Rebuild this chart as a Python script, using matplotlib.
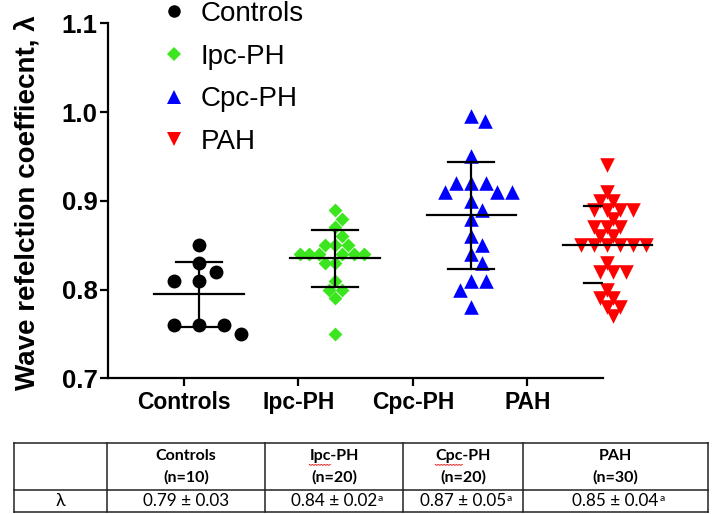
import numpy as np
import matplotlib
matplotlib.use("Agg")
import matplotlib.pyplot as plt
from matplotlib import font_manager
from matplotlib.lines import Line2D

# values (one list per group)
controls = [0.85, 0.83, 0.82, 0.81, 0.81, 0.76, 0.76, 0.76, 0.75]
ipc_ph = [0.89, 0.88, 0.87, 0.86, 0.85, 0.85, 0.85, 0.84, 0.84, 0.84,
          0.84, 0.84, 0.84, 0.83, 0.83, 0.81, 0.80, 0.80, 0.79, 0.75]
cpc_ph = [0.995, 0.99, 0.95, 0.92, 0.92, 0.92, 0.91, 0.91, 0.91, 0.90,
          0.89, 0.88, 0.86, 0.85, 0.84, 0.83, 0.81, 0.81, 0.80, 0.78]
pah = [0.94, 0.91, 0.90, 0.90, 0.89, 0.89, 0.89, 0.89, 0.88, 0.87,
       0.87, 0.87, 0.86, 0.86, 0.85, 0.85, 0.85, 0.85, 0.85, 0.85,
       0.83, 0.82, 0.82, 0.82, 0.80, 0.79, 0.79, 0.78, 0.78, 0.77]

groups = ["Controls", "Ipc-PH", "Cpc-PH", "PAH"]
y_ticks = [0.7, 0.8, 0.9, 1.0, 1.1]

# summary table
n_counts = [10, 20, 20, 30]
tab_mean = ["0.79", "0.84", "0.87", "0.85"]
tab_sd = ["0.03", "0.02", "0.05", "0.04"]
tab_sup = ["", "a", "a", "a"]

colors = ["black", "#3CE61E", "#0000FF", "#FF0000"]
markers = ["o", "D", "^", "v"]
sizes = [100, 50, 110, 110]
# swarm spacing in pixels (x, y) per group
spread = [(25, 12), (9.6, 12), (15, 13), (13, 10)]

names = {f.name for f in font_manager.fontManager.ttflist}
plt.rcParams["font.family"] = "Liberation Sans"
narrow = "Liberation Sans Narrow" in names
xfont = "Liberation Sans Narrow" if narrow else "Liberation Sans"

fig = plt.figure(figsize=(7.2, 5.14), dpi=100)
ax = fig.add_axes([108 / 720, 1 - 378.3 / 514, 495 / 720, 355 / 514])
ax.set_ylim(0.7, 1.1)
ax.set_xlim(0.336, 4.661)


def swarm(values, center, wx, wy):
    vals = np.asarray(values, dtype=float)
    pts = ax.transData.transform(np.column_stack([np.full(len(vals), center), vals]))
    cx = pts[0, 0]
    ys = pts[:, 1]
    placed = []
    xs = np.zeros(len(vals))
    for i in np.argsort(-vals, kind="stable"):
        y = ys[i]
        cands = [0.0]
        for px, py in placed:
            dy = abs(py - y)
            if dy < wy:
                dx = wx * np.sqrt(1 - (dy / wy) ** 2)
                cands += [px + dx, px - dx]
        cands.sort(key=lambda c: (round(abs(c), 3), -c))
        for c in cands:
            if all(((c - px) / wx) ** 2 + ((y - py) / wy) ** 2 >= 0.98 for px, py in placed):
                break
        placed.append((c, y))
        xs[i] = c
    back = ax.transData.inverted().transform(np.column_stack([cx + xs, ys]))
    return back[:, 0]


data = [controls, ipc_ph, cpc_ph, pah]
for i, vals in enumerate(data):
    center = 1.131 + 1.189 * i
    xs = swarm(vals, center, *spread[i])
    ax.scatter(xs, vals, s=sizes[i], marker=markers[i], color=colors[i],
               linewidths=0, zorder=3, clip_on=False)
    m = np.mean(vals)
    sd = np.std(vals, ddof=1)
    half, cap = 0.39, 0.2
    ax.plot([center - half, center + half], [m, m], color="black", lw=1.6, zorder=4, clip_on=False)
    ax.plot([center, center], [m - sd, m + sd], color="black", lw=1.6, zorder=4)
    for yy in (m - sd, m + sd):
        ax.plot([center - cap, center + cap], [yy, yy], color="black", lw=1.6, zorder=4)

for side in ("top", "right"):
    ax.spines[side].set_visible(False)
for side in ("left", "bottom"):
    ax.spines[side].set_linewidth(1.6)
ax.set_yticks(y_ticks)
ax.set_yticklabels([f"{v:.1f}" for v in y_ticks], fontsize=18.5, fontweight="bold")
ax.set_xticks(range(1, 5))
ax.set_xticklabels(groups, fontsize=20 if narrow else 16.5, fontweight="bold", family=xfont)
ax.tick_params(axis="y", width=1.6, length=6, pad=1.5)
ax.tick_params(axis="x", width=1.6, length=6, pad=3)

fig.text(28 / 720, 1 - 390 / 514, "Wave refelction coeffiecnt, \u03bb", rotation=90,
         ha="center", va="bottom", fontsize=20, fontweight="bold")

handles = [Line2D([], [], ls="", marker=markers[i], color=colors[i],
                  markersize=np.sqrt(sizes[i]) * (0.95 if i else 0.9), markeredgewidth=0)
           for i in range(4)]
fig.legend(handles, groups, loc="upper left", bbox_to_anchor=(160 / 720, 0.998),
           frameon=False, fontsize=20, handlelength=1.0, handletextpad=0.45,
           labelspacing=0.6, borderpad=0, borderaxespad=0)

# summary table drawn below the chart
tab = fig.add_axes([0, 0, 1, 1], zorder=-1)
tab.set_xlim(0, 720)
tab.set_ylim(514, 0)
tab.axis("off")
col_x = [14, 106.7, 265, 403, 523, 708]
row_y = [442.7, 490, 511.7]
for y in row_y:
    tab.plot([col_x[0], col_x[-1]], [y, y], color="#222222", lw=1.1)
for x in col_x:
    tab.plot([x, x], [row_y[0], row_y[-1]], color="#222222", lw=1.1)

tfont = "Lato"
tab.text((col_x[0] + col_x[1]) / 2, 501, "\u03bb", ha="center", va="center",
         fontsize=13, family=[tfont, "DejaVu Sans"])
heads = []
for j, g in enumerate(groups):
    cx = (col_x[j + 1] + col_x[j + 2]) / 2
    heads.append(tab.text(cx, 456, g, ha="center", va="center", fontsize=11.5,
                          fontweight="bold", family=tfont))
    tab.text(cx, 477.5, f"(n={n_counts[j]})", ha="center", va="center", fontsize=11.5,
             fontweight="bold", family=tfont)
    t = tab.text(cx, 501.5, f"{tab_mean[j]} \u00b1 {tab_sd[j]}", ha="center", va="center",
                 fontsize=12.3, family=tfont)
    if tab_sup[j]:
        tab.annotate(tab_sup[j], xy=(1, 1), xycoords=t, xytext=(0.5, -0.5),
                     textcoords="offset points", ha="left", va="top", fontsize=7.5,
                     family=tfont)

# red spell-check squiggles under "Ipc" and "Cpc"
fig.canvas.draw()
r = fig.canvas.get_renderer()
for j in (1, 2):
    bb = heads[j].get_window_extent(r)
    probe = tab.text(0, 0, groups[j][:3], fontsize=11.5, fontweight="bold", family=tfont)
    w = probe.get_window_extent(r).width
    probe.remove()
    xs_w = np.arange(bb.x0, bb.x0 + w + 0.1, 1.5)
    ys_w = 514 - bb.y0 + 1.5 + 0.8 * (np.arange(len(xs_w)) % 2)
    tab.plot(xs_w, ys_w, color="#E02020", lw=0.7)

fig.savefig("out.png", dpi=100)
